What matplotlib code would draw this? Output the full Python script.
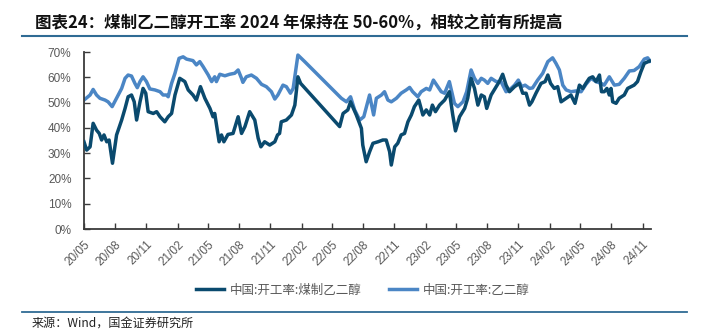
import matplotlib
matplotlib.use("Agg")
import matplotlib.pyplot as plt
import matplotlib.dates as mdates
from matplotlib.lines import Line2D
from matplotlib.ticker import FuncFormatter, MultipleLocator
import pandas as pd

CJK = ["Noto Sans CJK SC", "DejaVu Sans"]

# 中国:开工率:乙二醇 (%)
total_dates = [
    "2020-05-01", "2020-05-09", "2020-05-19", "2020-05-28", "2020-06-07", "2020-06-17",
    "2020-07-02", "2020-07-11", "2020-07-23", "2020-08-05", "2020-08-20", "2020-08-30",
    "2020-09-08", "2020-09-18", "2020-09-28", "2020-10-05", "2020-10-13", "2020-10-22",
    "2020-11-01", "2020-11-11", "2020-11-26", "2020-12-11", "2020-12-20", "2020-12-30",
    "2021-01-04", "2021-01-14", "2021-01-24", "2021-02-05", "2021-02-17", "2021-02-27",
    "2021-03-18", "2021-03-28", "2021-04-07", "2021-04-17", "2021-05-02", "2021-05-12",
    "2021-05-21", "2021-05-26", "2021-06-05", "2021-06-20", "2021-07-04", "2021-07-19",
    "2021-07-29", "2021-08-08", "2021-08-12", "2021-08-22", "2021-09-06", "2021-09-21",
    "2021-10-06", "2021-10-20", "2021-11-04", "2021-11-14", "2021-11-23", "2021-12-08",
    "2021-12-18", "2021-12-30", "2022-01-07", "2022-01-21", "2022-02-10", "2022-05-29",
    "2022-06-13", "2022-06-25", "2022-07-07", "2022-07-22", "2022-08-03", "2022-08-20",
    "2022-09-01", "2022-09-09", "2022-09-24", "2022-10-03", "2022-10-13", "2022-10-23",
    "2022-11-07", "2022-11-21", "2022-12-06", "2022-12-16", "2022-12-25", "2023-01-09",
    "2023-01-19", "2023-02-03", "2023-02-13", "2023-02-24", "2023-03-09", "2023-03-19",
    "2023-03-29", "2023-04-12", "2023-04-27", "2023-05-07", "2023-05-22", "2023-06-02",
    "2023-06-15", "2023-06-25", "2023-07-05", "2023-07-15", "2023-07-24", "2023-08-03",
    "2023-08-13", "2023-08-28", "2023-09-11", "2023-09-26", "2023-10-06", "2023-10-21",
    "2023-11-01", "2023-11-11", "2023-11-21", "2023-12-04", "2023-12-13", "2023-12-28",
    "2024-01-12", "2024-01-27", "2024-02-10", "2024-02-20", "2024-03-01", "2024-03-11",
    "2024-03-21", "2024-04-04", "2024-04-19", "2024-05-04", "2024-05-18", "2024-06-02",
    "2024-06-17", "2024-07-02", "2024-07-11", "2024-07-26", "2024-08-10", "2024-08-24",
    "2024-09-08", "2024-09-23", "2024-10-07", "2024-10-22", "2024-11-06", "2024-11-16",
    "2024-11-23",
]
total_rate = [
    51.0, 51.9, 53.0, 55.2, 53.0, 51.7,
    51.0, 50.3, 48.4, 51.7, 55.6, 59.6,
    60.9, 60.5, 57.6, 55.9, 58.3, 60.2,
    58.3, 55.4, 55.0, 54.3, 53.0, 53.0,
    52.3, 57.6, 61.6, 67.5, 68.1, 67.2,
    66.6, 64.9, 66.2, 64.2, 60.9, 58.3,
    60.2, 58.3, 61.2, 60.6, 61.2, 61.6,
    62.9, 59.6, 58.0, 60.2, 60.9, 59.6,
    57.2, 56.3, 54.3, 51.4, 53.0, 56.9,
    56.3, 53.7, 55.6, 68.8, 66.2, 51.7,
    50.3, 52.3, 47.1, 43.1, 44.4, 53.0,
    45.1, 51.7, 53.0, 54.3, 51.0, 50.3,
    51.7, 53.7, 55.0, 56.0, 54.3, 52.3,
    54.3, 55.6, 55.0, 58.9, 56.3, 54.3,
    53.7, 58.3, 49.7, 48.4, 50.3, 54.3,
    62.9, 59.6, 57.6, 59.6, 58.9, 57.6,
    59.6, 58.3, 58.3, 54.3, 55.0, 56.9,
    58.9, 56.3, 56.9, 55.6, 55.8, 58.9,
    61.6, 66.2, 67.7, 65.5, 62.9, 56.9,
    55.0, 54.3, 54.6, 54.3, 57.2, 59.6,
    58.3, 57.6, 56.9, 60.2, 56.9, 57.2,
    59.6, 62.5, 62.7, 64.2, 67.2, 67.7,
    66.4,
]

# 中国:开工率:煤制乙二醇 (%)
coal_dates = [
    "2020-05-01", "2020-05-09", "2020-05-19", "2020-05-28", "2020-06-07", "2020-06-15",
    "2020-06-22", "2020-06-29", "2020-07-07", "2020-07-14", "2020-07-24", "2020-08-05",
    "2020-08-20", "2020-08-30", "2020-09-08", "2020-09-18", "2020-09-26", "2020-10-03",
    "2020-10-13", "2020-10-22", "2020-10-30", "2020-11-06", "2020-11-21", "2020-12-01",
    "2020-12-11", "2020-12-25", "2021-01-04", "2021-01-14", "2021-01-24", "2021-02-07",
    "2021-02-22", "2021-03-04", "2021-03-18", "2021-03-28", "2021-04-09", "2021-04-22",
    "2021-05-07", "2021-05-16", "2021-05-21", "2021-06-03", "2021-06-10", "2021-06-17",
    "2021-06-29", "2021-07-14", "2021-07-29", "2021-08-08", "2021-08-18", "2021-09-01",
    "2021-09-16", "2021-09-26", "2021-10-04", "2021-10-15", "2021-10-30", "2021-11-14",
    "2021-11-22", "2021-11-28", "2021-12-03", "2021-12-18", "2022-01-02", "2022-01-12",
    "2022-01-21", "2022-01-29", "2022-05-24", "2022-06-03", "2022-06-17", "2022-06-25",
    "2022-07-12", "2022-07-27", "2022-07-31", "2022-08-10", "2022-08-20", "2022-08-30",
    "2022-09-14", "2022-09-28", "2022-10-08", "2022-10-18", "2022-10-23", "2022-11-02",
    "2022-11-11", "2022-11-21", "2022-12-01", "2022-12-11", "2022-12-21", "2022-12-30",
    "2023-01-12", "2023-01-24", "2023-02-03", "2023-02-13", "2023-02-21", "2023-03-02",
    "2023-03-14", "2023-03-29", "2023-04-12", "2023-04-22", "2023-04-30", "2023-05-12",
    "2023-05-27", "2023-06-05", "2023-06-15", "2023-06-25", "2023-07-05", "2023-07-15",
    "2023-07-24", "2023-07-31", "2023-08-13", "2023-08-26", "2023-09-06", "2023-09-16",
    "2023-09-26", "2023-10-06", "2023-10-21", "2023-11-04", "2023-11-14", "2023-11-24",
    "2023-12-04", "2023-12-11", "2023-12-23", "2024-01-07", "2024-01-19", "2024-01-27",
    "2024-02-04", "2024-02-15", "2024-02-25", "2024-03-06", "2024-03-21", "2024-04-04",
    "2024-04-16", "2024-04-29", "2024-05-09", "2024-05-18", "2024-05-28", "2024-06-07",
    "2024-06-17", "2024-06-27", "2024-07-03", "2024-07-11", "2024-07-19", "2024-07-26",
    "2024-07-31", "2024-08-05", "2024-08-15", "2024-08-24", "2024-09-08", "2024-09-18",
    "2024-09-28", "2024-10-07", "2024-10-17", "2024-10-27", "2024-11-06", "2024-11-21",
]
coal_rate = [
    34.5, 31.2, 32.5, 41.8, 39.1, 37.8,
    35.2, 37.2, 34.5, 35.2, 26.0, 37.2,
    43.1, 47.7, 52.3, 53.0, 50.3, 43.1,
    50.3, 55.6, 53.7, 46.4, 45.7, 46.4,
    44.4, 42.4, 44.4, 45.7, 53.0, 59.6,
    58.3, 55.0, 53.0, 51.0, 56.3, 51.7,
    47.7, 44.4, 45.7, 34.5, 37.2, 34.5,
    37.4, 37.8, 44.4, 37.8, 40.5, 46.4,
    43.1, 35.9, 32.5, 34.5, 33.2, 34.5,
    37.2, 37.8, 42.4, 43.1, 45.1, 49.0,
    60.2, 57.6, 40.5, 45.7, 47.1, 50.3,
    45.1, 39.8, 33.2, 26.6, 30.5, 33.9,
    34.5, 35.2, 35.2, 30.6, 25.3, 32.5,
    33.9, 37.2, 37.8, 42.4, 45.1, 48.4,
    51.0, 45.1, 47.1, 45.1, 49.0, 46.4,
    49.0, 51.0, 54.3, 45.1, 38.8, 44.4,
    47.7, 51.7, 59.6, 55.6, 49.0, 53.0,
    52.3, 47.7, 53.0, 55.9, 58.3, 61.2,
    56.9, 54.3, 56.3, 57.6, 53.7, 53.7,
    49.0, 50.3, 53.7, 57.6, 58.3, 60.9,
    57.6, 55.6, 56.3, 50.3, 51.7, 53.0,
    49.7, 56.9, 55.6, 57.6, 59.6, 60.2,
    58.3, 60.9, 54.3, 54.3, 55.6, 53.0,
    55.6, 50.3, 49.7, 51.7, 53.0, 55.6,
    56.3, 56.9, 58.3, 62.2, 65.5, 66.4,
]

series_names = ["中国:开工率:煤制乙二醇", "中国:开工率:乙二醇"]
tick_dates = pd.date_range("2020-05-01", "2024-11-01", freq="3MS")

dark = "#0a4a6e"
light = "#4b86c5"
rule = "#2f6b94"

fig = plt.figure(figsize=(7.08, 3.33), dpi=100)
ax = fig.add_axes([0.1186, 0.3123, 0.801, 0.5315])

ax.plot(pd.to_datetime(total_dates), total_rate, color=light, lw=2.5,
        label=series_names[1], zorder=2, solid_joinstyle="round")
ax.plot(pd.to_datetime(coal_dates), coal_rate, color=dark, lw=2.5,
        label=series_names[0], zorder=3, solid_joinstyle="round")

ax.set_xlim(pd.Timestamp("2020-05-01"), pd.Timestamp("2024-11-26"))
ax.set_ylim(0, 70)
ax.yaxis.set_major_locator(MultipleLocator(10))
ax.yaxis.set_major_formatter(FuncFormatter(lambda v, p: f"{v:.0f}%"))
ax.set_xticks(tick_dates)
ax.xaxis.set_major_formatter(mdates.DateFormatter("%y/%m"))

for s in ["top", "right"]:
    ax.spines[s].set_visible(False)
for s in ["left", "bottom"]:
    ax.spines[s].set_color("#3a3a3a")
    ax.spines[s].set_linewidth(1.3)

ax.tick_params(axis="both", direction="in", length=4, width=1, color="#3a3a3a",
               labelcolor="#595959", labelsize=8.5)
ax.tick_params(axis="y", pad=9)
ax.tick_params(axis="x", pad=7)
for lab in ax.get_xticklabels():
    lab.set_rotation(45)
    lab.set_ha("right")
    lab.set_rotation_mode("anchor")
    lab.set_fontfamily("Liberation Sans")
for lab in ax.get_yticklabels():
    lab.set_fontfamily("Liberation Sans")

h, l = ax.get_legend_handles_labels()
leg = fig.legend(h[::-1], l[::-1], loc="center", bbox_to_anchor=(0.512, 0.129),
                 ncol=2, frameon=False, prop={"family": CJK, "size": 9},
                 handlelength=2.3, columnspacing=2.2, handletextpad=0.4)
for t in leg.get_texts():
    t.set_color("#595959")

fig.text(0.05, 0.933, "图表24：煤制乙二醇开工率 2024 年保持在 50-60%，相较之前有所提高",
         family=CJK, fontsize=11.9, fontweight="bold", style="italic",
         color="#111111", va="center", ha="left")
fig.add_artist(Line2D([0.031, 0.970], [0.893, 0.893], color=rule, lw=1.5))
fig.add_artist(Line2D([0.031, 0.970], [0.063, 0.063], color=rule, lw=1.3))
fig.text(0.045, 0.030, "来源：Wind，国金证券研究所", family=CJK, fontsize=8.7,
         color="#222222", va="center", ha="left")

fig.savefig("out.png", dpi=100)
